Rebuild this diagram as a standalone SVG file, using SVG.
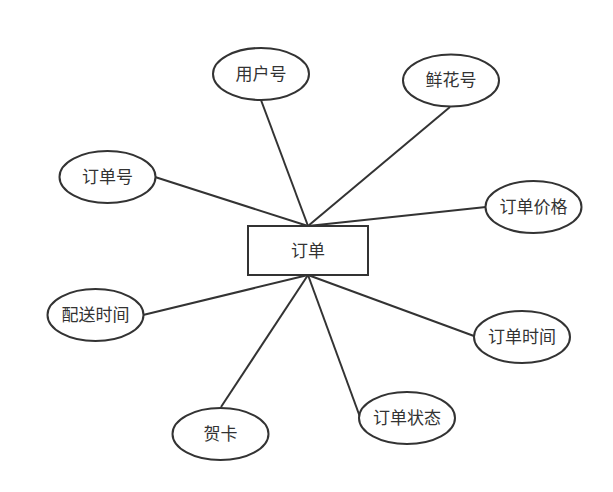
<svg xmlns="http://www.w3.org/2000/svg" width="613" height="492" viewBox="0 0 613 492">
<style>
.s{fill:#fff;stroke:#333;stroke-width:2}
.l{stroke:#333;stroke-width:2;fill:none}
text{font-family:"Liberation Sans","Noto Sans CJK SC",sans-serif;font-size:17px;fill:#333;text-anchor:middle;dominant-baseline:central}
</style>
<rect width="613" height="492" fill="#fff"/>
<g id="connectors">
<line class="l" x1="261" y1="100" x2="308" y2="226"/>
<line class="l" x1="155" y1="177" x2="308" y2="226"/>
<line class="l" x1="450" y1="107" x2="308" y2="226"/>
<line class="l" x1="486" y1="207" x2="308" y2="226"/>
<line class="l" x1="143" y1="315" x2="308" y2="275"/>
<line class="l" x1="474" y1="336" x2="308" y2="275"/>
<line class="l" x1="360" y1="417" x2="308" y2="275"/>
<line class="l" x1="221" y1="407" x2="308" y2="275"/>
</g>
<g id="order"><rect class="s" x="248" y="226" width="120" height="49"/><text x="308" y="251">订单</text></g>
<g id="userid"><ellipse class="s" cx="261" cy="74" rx="48" ry="26"/><text x="261" y="74">用户号</text></g>
<g id="flowerid"><ellipse class="s" cx="451" cy="80.5" rx="48" ry="26"/><text x="451" y="80.5">鲜花号</text></g>
<g id="orderid"><ellipse class="s" cx="107.5" cy="177" rx="48" ry="26"/><text x="107.5" y="177">订单号</text></g>
<g id="price"><ellipse class="s" cx="533.5" cy="207" rx="48" ry="26"/><text x="533.5" y="207">订单价格</text></g>
<g id="delivery"><ellipse class="s" cx="95.5" cy="315" rx="48" ry="26"/><text x="95.5" y="315">配送时间</text></g>
<g id="ordertime"><ellipse class="s" cx="522" cy="337" rx="48" ry="26"/><text x="522" y="337">订单时间</text></g>
<g id="status"><ellipse class="s" cx="407" cy="418" rx="48" ry="26"/><text x="407" y="418">订单状态</text></g>
<g id="card"><ellipse class="s" cx="220.5" cy="434" rx="48" ry="26"/><text x="220.5" y="434">贺卡</text></g>
</svg>
